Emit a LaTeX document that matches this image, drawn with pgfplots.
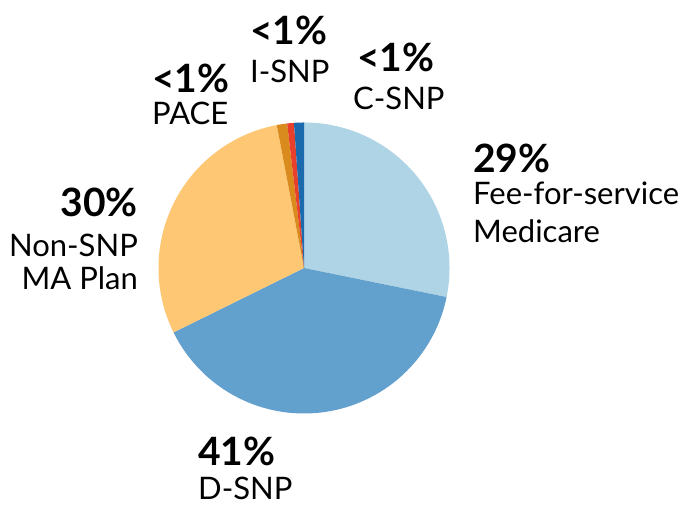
\documentclass[border=0pt]{standalone}
\usepackage{pgfplots}
\pgfplotsset{compat=1.18}
\usepackage{fontspec}
\setmainfont{Lato}
\definecolor{cffs}{HTML}{AED4E6}
\definecolor{cdsnp}{HTML}{62A0CE}
\definecolor{cnon}{HTML}{FDC774}
\definecolor{cpace}{HTML}{D98B1D}
\definecolor{cisnp}{HTML}{E8402A}
\definecolor{ccsnp}{HTML}{1C6AAE}
\begin{document}
\begin{tikzpicture}[x=1bp,y=1bp]
\useasboundingbox (0,0) rectangle (680,506);
% shares in percent, clockwise from 12 o'clock
\def\pFFS{28.2}\def\pDSNP{39.5}\def\pNON{29.3}\def\pPACE{1.15}\def\pISNP{0.75}\def\pCSNP{1.1}
\pgfmathsetmacro{\aA}{90}
\pgfmathsetmacro{\aB}{\aA-3.6*\pFFS}
\pgfmathsetmacro{\aC}{\aB-3.6*\pDSNP}
\pgfmathsetmacro{\aD}{\aC-3.6*\pNON}
\pgfmathsetmacro{\aE}{\aD-3.6*\pPACE}
\pgfmathsetmacro{\aF}{\aE-3.6*\pISNP}
\pgfmathsetmacro{\aG}{\aF-3.6*\pCSNP}
\begin{axis}[hide axis, x=145.5bp, y=145.5bp, xmin=-1.05, xmax=1.05, ymin=-1.05, ymax=1.05,
  at={(304bp,238bp)}, anchor=center, clip=false]
\addplot[fill=cffs, draw=none, domain=\aA:\aB, samples=90, variable=\t] ({cos(\t)},{sin(\t)}) -- (axis cs:0,0) -- cycle;
\addplot[fill=cdsnp, draw=none, domain=\aB:\aC, samples=120, variable=\t] ({cos(\t)},{sin(\t)}) -- (axis cs:0,0) -- cycle;
\addplot[fill=cnon, draw=none, domain=\aC:\aD, samples=90, variable=\t] ({cos(\t)},{sin(\t)}) -- (axis cs:0,0) -- cycle;
\addplot[fill=cpace, draw=none, domain=\aD:\aE, samples=10, variable=\t] ({cos(\t)},{sin(\t)}) -- (axis cs:0,0) -- cycle;
\addplot[fill=cisnp, draw=none, domain=\aE:\aF, samples=10, variable=\t] ({cos(\t)},{sin(\t)}) -- (axis cs:0,0) -- cycle;
\addplot[fill=ccsnp, draw=none, domain=\aF:\aG, samples=10, variable=\t] ({cos(\t)},{sin(\t)}) -- (axis cs:0,0) -- cycle;
\end{axis}
\tikzset{pct/.style={inner sep=0pt, font=\fontsize{39bp}{44bp}\selectfont\bfseries},
         lab/.style={inner sep=0pt, font=\fontsize{31bp}{36bp}\selectfont}}
% Fee-for-service
\node[pct, anchor=base west] at (473,333) {29\%};
\node[lab, anchor=base west] at (473,301) {Fee-for-service};
\node[lab, anchor=base west] at (473,263) {Medicare};
% Non-SNP
\node[pct, anchor=base east] at (138,289) {30\%};
\node[lab, anchor=base east] at (138,249) {Non-SNP};
\node[lab, anchor=base east] at (138,216) {MA Plan};
% D-SNP
\node[pct, anchor=base west] at (198,40) {41\%};
\node[lab, anchor=base west] at (198,6) {D-SNP};
% PACE
\node[pct, anchor=base west] at (152,413) {<1\%};
\node[lab, anchor=base west] at (152,381) {PACE};
% I-SNP
\node[pct, anchor=base west] at (250,461) {<1\%};
\node[lab, anchor=base west] at (250,423) {I-SNP};
% C-SNP
\node[pct, anchor=base west] at (357,434) {<1\%};
\node[lab, anchor=base west] at (353,396) {C-SNP};
\end{tikzpicture}
\end{document}
